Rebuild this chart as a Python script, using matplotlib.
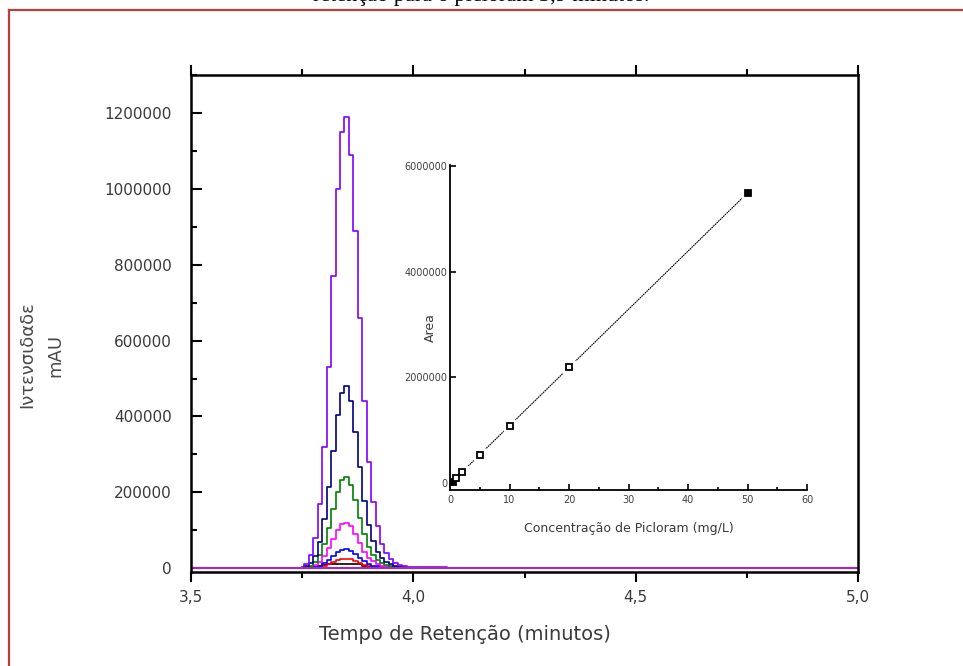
import numpy as np
import matplotlib
matplotlib.use('Agg')
import matplotlib.pyplot as plt
from matplotlib.lines import Line2D
from matplotlib.ticker import MultipleLocator

t_min = [3.75, 3.76, 3.77, 3.78, 3.79, 3.80, 3.81, 3.82, 3.83, 3.84, 3.85, 3.86,
         3.87, 3.88, 3.89, 3.90, 3.91, 3.92, 3.93, 3.94, 3.95, 3.96, 3.97, 3.98,
         3.99, 4.00, 4.01, 4.02, 4.03, 4.04, 4.05, 4.06, 4.07, 4.08]
i_50 = [3, 12, 35, 80, 170, 320, 530, 770, 1000, 1150, 1190, 1090, 890, 660, 440, 280, 175,
        110, 65, 40, 25, 15, 9, 6, 4, 3, 2, 2, 2, 2, 2, 2, 2, 0]
i_20 = [1, 5, 14, 32, 68, 129, 214, 310, 403, 463, 480, 440, 359, 266, 177, 113, 71,
        44, 26, 16, 10, 6, 4, 2, 1, 0, 0, 0, 0, 0, 0, 0, 0, 0]
i_10 = [0, 2, 7, 16, 34, 65, 107, 155, 201, 232, 240, 220, 180, 133, 89, 57, 36,
        22, 13, 8, 5, 3, 2, 1, 1, 0, 0, 0, 0, 0, 0, 0, 0, 0]
i_5 = [0, 1, 3, 8, 17, 32, 53, 77, 100, 116, 120, 110, 90, 66, 44, 28, 18,
       11, 7, 4, 3, 2, 1, 0, 0, 0, 0, 0, 0, 0, 0, 0, 0, 0]
i_2 = [0, 0, 1, 3, 7, 13, 22, 32, 42, 48, 50, 46, 38, 28, 19, 12, 7,
       5, 3, 2, 1, 0, 0, 0, 0, 0, 0, 0, 0, 0, 0, 0, 0, 0]
i_1 = [0, 0, 0, 2, 4, 7, 11, 16, 21, 24, 25, 23, 19, 14, 9, 6, 4,
       2, 1, 0, 0, 0, 0, 0, 0, 0, 0, 0, 0, 0, 0, 0, 0, 0]
i_05 = [0, 0, 0, 2, 6, 9, 10, 10, 10, 10, 10, 10, 10, 10, 6, 3, 1,
        0, 0, 0, 0, 0, 0, 0, 0, 0, 0, 0, 0, 0, 0, 0, 0, 0]
base_t = [3.5, 5.0]
base_i = [0, 0]

x_ticks = [3.5, 4.0, 4.5, 5.0]
x_labels = ['3,5', '4,0', '4,5', '5,0']
y_ticks = [0, 200000, 400000, 600000, 800000, 1000000, 1200000]

# curva analítica (inset)
conc = [0.5, 1, 2, 5, 10, 20, 50]
area = [30000, 100000, 210000, 540000, 1090000, 2190000, 5490000]
filled = [True, False, False, False, False, False, True]
ins_xticks = [0, 10, 20, 30, 40, 50, 60]
ins_yticks = [0, 2000000, 4000000, 6000000]

fig = plt.figure(figsize=(9.63, 6.66), dpi=100)

# moldura e legenda do documento (cortada no topo)
fig.add_artist(Line2D([9 / 963, 9 / 963], [0, 1 - 10 / 666], color='#b5403f', lw=1.6))
fig.add_artist(Line2D([9 / 963, 1], [1 - 10 / 666, 1 - 10 / 666], color='#b5403f', lw=1.6))
fig.text(0.5, 1 - 1.5 / 666, 'retenção para o picloram 3,9 minutos.', ha='center', va='baseline',
         fontsize=16, family='Liberation Serif')

ax = fig.add_axes([191 / 963, 1 - 572 / 666, 667 / 963, 497 / 666])
series = [(i_05, 'black'), (i_1, '#ff0000'), (i_2, '#0000ff'), (i_5, '#ff00ff'),
          (i_10, '#008000'), (i_20, '#000080'), (i_50, '#8000ff')]
for vals, c in series:
    ax.plot(t_min, np.array(vals) * 1000, color=c, lw=1.2, drawstyle='steps-mid')
ax.plot(base_t, base_i, color='#a030b0', lw=1.6)

ax.set_xlim(3.5, 5.0)
ax.set_ylim(-10000, 1300000)
ax.set_xticks(x_ticks)
ax.set_xticklabels(x_labels)
ax.xaxis.set_minor_locator(MultipleLocator(0.25))
ax.set_yticks(y_ticks)
ax.set_yticklabels([str(v) for v in y_ticks])
ax.yaxis.set_minor_locator(MultipleLocator(100000))
ax.tick_params(axis='x', which='both', direction='out', top=True, bottom=True,
               labelsize=11, labelcolor='#3a3a3a', pad=6)
ax.tick_params(axis='x', which='major', length=7, width=1.5)
ax.tick_params(axis='x', which='minor', length=4, width=1.5)
ax.tick_params(axis='y', which='both', direction='in', right=False,
               labelsize=11, labelcolor='#3a3a3a', pad=14)
ax.tick_params(axis='y', which='major', length=8, width=1.5)
ax.tick_params(axis='y', which='minor', length=4, width=1.5)
for s in ax.spines.values():
    s.set_linewidth(1.8)

fig.text(465 / 963, 1 - 635 / 666, 'Tempo de Retenção (minutos)', ha='center', va='center',
         fontsize=14, color='#3a3a3a')
fig.text(41 / 963, 1 - 355 / 666, 'Ιντενσιδαδε\nmAU', ha='center', va='center',
         rotation=90, fontsize=13, color='#4a4a4a', linespacing=1.7)

# inset
ins = fig.add_axes([450 / 963, 1 - 490 / 666, 357 / 963, 325 / 666])
ins.patch.set_alpha(0)
coef = np.polyfit(conc, area, 1)
xf = np.array([min(conc), max(conc)])
ins.plot(xf, np.polyval(coef, xf), color='black', lw=0.8, ls=(0, (1.5, 0.6)))
ins.plot(conc, area, ls='none', marker='s', ms=9, mfc='white', mec='white')
for c_, a_, f_ in zip(conc, area, filled):
    ins.plot(c_, a_, ls='none', marker='s', ms=5, mfc='black' if f_ else 'white',
             mec='black', mew=1.3)
ins.set_xlim(0, 60)
ins.set_ylim(-130000, 6020000)
ins.set_xticks(ins_xticks)
ins.xaxis.set_minor_locator(MultipleLocator(5))
ins.set_yticks(ins_yticks)
ins.set_yticklabels([str(v) for v in ins_yticks])
ins.spines['top'].set_visible(False)
ins.spines['right'].set_visible(False)
for s in ['left', 'bottom']:
    ins.spines[s].set_linewidth(1.3)
ins.tick_params(which='both', direction='in', labelsize=7, labelcolor='#404040', width=1.2)
ins.tick_params(which='major', length=4)
ins.tick_params(which='minor', length=2.5)
ins.tick_params(axis='y', pad=2)
ins.set_xlabel('Concentração de Picloram (mg/L)', fontsize=9, color='#3a3a3a', labelpad=12)
ins.set_ylabel('Area', fontsize=9, color='#3a3a3a')
ins.yaxis.set_label_coords(-13 / 357, 0.5)

fig.savefig('out.png', dpi=100)
